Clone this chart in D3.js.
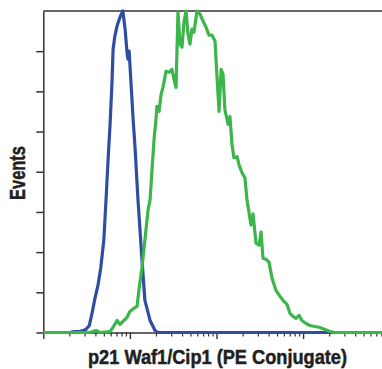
<!DOCTYPE html>
<html>
<head>
<meta charset="utf-8">
<script src="https://cdn.jsdelivr.net/npm/d3@7"></script>
<style>
  html, body { margin: 0; padding: 0; background: #fff; }
  svg { display: block; }
</style>
</head>
<body>
<div id="chart"></div>
<script>
// fluorescence intensity (log axis) and event counts
const isotypeIntensity = [1, 2.0, 2.3, 2.65, 3.1, 3.4, 3.65, 3.95, 4.3, 4.6, 5.0, 5.3, 5.6, 5.9, 6.2, 6.4, 6.7, 7.1, 7.7, 8.3,
  8.8, 9.3, 9.5, 9.8, 10.0, 10.9, 11.5, 12.4, 13.8, 14.9, 17.1, 19.5, 21, 8150];
const isotypeCounts = [0, 0, 0.5, 0.5, 1.5, 3.5, 9.5, 17, 24, 32, 46, 66, 86, 103.5, 123.5, 141, 147.5, 152.5, 157, 160,
  151, 138.5, 136, 140, 133.5, 106, 91, 66, 36, 16, 6, 1, 0, 0];

const p21Intensity = [1, 3.46, 4.06, 4.52, 5.89, 6.38, 7.10, 7.69, 8.32, 9.26, 10.0, 11.1, 12.1, 12.7, 13.8, 14.9, 16.2, 17.1,
  18.0, 19.0, 20.0, 20.5, 21.7, 22.9, 24.1, 26.1, 28.3, 30.6, 32.3, 34.1, 35.0, 35.9, 37.9, 40.0, 42.2, 44.5, 46.9, 49.4,
  52.1, 55.0, 59.6, 64.5, 69.8, 75.6, 81.9, 88.7, 96.1, 101, 107, 113, 119, 125, 136, 143, 151, 159, 173, 182, 197, 213,
  225, 237, 250, 264, 286, 310, 327, 344, 373, 404, 438, 486, 541, 586, 652, 706, 764, 828, 897, 971, 1080, 1200, 1370,
  1570, 1790, 2050, 2340, 8150];
const p21Counts = [0, 0, 1, 0, 0.5, 2.5, 6, 4, 5.5, 7.5, 10.5, 12, 13, 21, 32.5, 46, 61, 66,
  81, 96, 106, 112.5, 110, 118.5, 122, 130, 129.5, 131, 126, 122, 141, 159.5, 143.5, 142, 155, 160, 148.5, 143.5,
  151, 149.5, 160, 158.5, 155, 152, 148, 148, 145, 128.5, 110, 131, 128.5, 111, 103.5, 107.5, 93.5, 87, 87.5, 83.5, 79.5, 77,
  66, 60, 53.5, 59, 44.5, 43.5, 50, 37, 36.5, 35, 27, 21, 18, 16, 14, 9.5, 8, 7, 8.5, 6, 4.5, 3.5, 3,
  2.5, 1.5, 0.5, 0, 0];

const majorTicks = [1, 10, 100, 1000];
const countTicks = [0, 20, 40, 60, 80, 100, 120, 140];

const width = 382, height = 369;
const plotLeft = 43.3, plotRight = 382, plotTop = 11, plotBottom = 332.5;

const x = d3.scaleLog().domain([1, 8150]).range([plotLeft, plotRight]);
const y = d3.scaleLinear().domain([0, 160]).range([plotBottom, plotTop]);

const minorTicks = [];
majorTicks.forEach(m => { for (let k = 2; k <= 9; k++) if (m * k <= 8150) minorTicks.push(m * k); });

const svg = d3.select("#chart").append("svg")
  .attr("width", width)
  .attr("height", height);

const axisColor = "#333";

// minor ticks
svg.append("g")
  .attr("transform", `translate(0,${plotBottom})`)
  .call(d3.axisBottom(x).tickValues(minorTicks).tickSize(4).tickSizeOuter(0).tickFormat(""))
  .call(g => g.select(".domain").remove())
  .call(g => g.selectAll("line").attr("stroke", axisColor).attr("stroke-width", 1.2));

// major ticks + baseline
svg.append("g")
  .attr("transform", `translate(0,${plotBottom})`)
  .call(d3.axisBottom(x).tickValues(majorTicks).tickSize(6.5).tickSizeOuter(0).tickFormat(""))
  .call(g => g.select(".domain").attr("stroke", axisColor).attr("stroke-width", 1.5))
  .call(g => g.selectAll("line").attr("stroke", axisColor).attr("stroke-width", 1.4));

svg.append("g")
  .attr("transform", `translate(${plotLeft},0)`)
  .call(d3.axisLeft(y).tickValues(countTicks).tickSize(7).tickSizeOuter(0).tickFormat(""))
  .call(g => g.select(".domain").attr("stroke", axisColor).attr("stroke-width", 1.5))
  .call(g => g.selectAll("line").attr("stroke", axisColor).attr("stroke-width", 1.5));

// top frame line
svg.append("line")
  .attr("x1", plotLeft).attr("x2", plotRight)
  .attr("y1", plotTop).attr("y2", plotTop)
  .attr("stroke", axisColor).attr("stroke-width", 1.5);

const line = d3.line()
  .x(d => x(d[0]))
  .y(d => y(d[1]));

svg.append("path")
  .datum(d3.zip(isotypeIntensity, isotypeCounts))
  .attr("fill", "none")
  .attr("stroke", "#2f4ea2")
  .attr("stroke-width", 3.2)
  .attr("stroke-linejoin", "round")
  .attr("d", line);

svg.append("path")
  .datum(d3.zip(p21Intensity, p21Counts))
  .attr("fill", "none")
  .attr("stroke", "#3cb54a")
  .attr("stroke-width", 3.2)
  .attr("stroke-linejoin", "round")
  .attr("d", line);

svg.append("text")
  .attr("x", 217.5)
  .attr("y", 364)
  .attr("text-anchor", "middle")
  .attr("font-family", "'Liberation Sans', Arial, sans-serif")
  .attr("font-weight", "bold")
  .attr("font-size", 20)
  .attr("fill", "#231f20")
  .attr("stroke", "#231f20")
  .attr("stroke-width", 0.5)
  .attr("textLength", 259)
  .attr("lengthAdjust", "spacingAndGlyphs")
  .text("p21 Waf1/Cip1 (PE Conjugate)");

svg.append("text")
  .attr("transform", "translate(25,173) rotate(-90)")
  .attr("text-anchor", "middle")
  .attr("font-family", "'Liberation Sans', Arial, sans-serif")
  .attr("font-weight", "bold")
  .attr("font-size", 22)
  .attr("fill", "#231f20")
  .attr("stroke", "#231f20")
  .attr("stroke-width", 0.5)
  .attr("textLength", 54)
  .attr("lengthAdjust", "spacingAndGlyphs")
  .text("Events");
</script>
</body>
</html>
